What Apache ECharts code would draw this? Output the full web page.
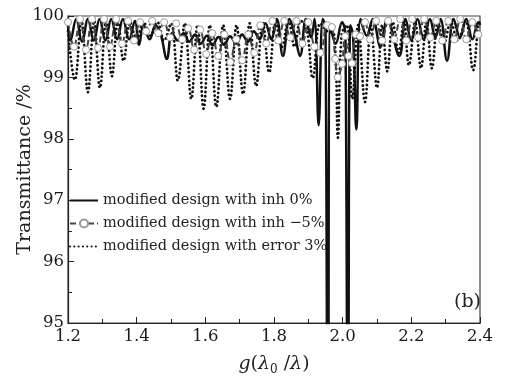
<!DOCTYPE html>
<html>
<head>
<meta charset="utf-8">
<script src="https://cdn.jsdelivr.net/npm/echarts@6/dist/echarts.min.js"></script>
<style>
html,body{margin:0;padding:0;background:#fff;}
#chart{width:507px;height:378px;}
</style>
</head>
<body>
<div id="chart"></div>
<script>
// ---- data ----
var seriesNames = [
  'modified design with inh 0%',
  'modified design with inh \u22125%',
  'modified design with error 3%'
];
var xTicks = [1.2, 1.4, 1.6, 1.8, 2.0, 2.2, 2.4];
var yTicks = [95, 96, 97, 98, 99, 100];

// inh 0% (solid)
var inh0 = [
  [1.200,99.85],[1.207,99.60],[1.224,99.95],[1.241,99.58],[1.258,99.95],[1.275,99.60],
  [1.292,99.95],[1.309,99.60],[1.326,99.95],[1.343,99.62],[1.360,99.95],[1.378,99.62],
  [1.395,99.92],[1.407,99.53],[1.420,99.85],[1.438,99.62],[1.455,99.85],[1.470,99.70],
  [1.488,99.30],[1.503,99.72],[1.520,99.60],[1.537,99.72],[1.553,99.58],[1.570,99.70],
  [1.587,99.55],[1.604,99.68],[1.621,99.52],[1.638,99.66],[1.655,99.53],[1.672,99.67],
  [1.690,99.55],[1.707,99.70],[1.724,99.58],[1.741,99.75],[1.758,99.62],[1.775,99.88],
  [1.792,99.62],[1.808,99.95],[1.826,99.35],[1.845,99.95],[1.860,99.70],[1.876,99.35],
  [1.893,99.95],[1.908,99.65],[1.918,99.95],[1.930,98.22],[1.942,99.95],[1.950,99.80],
  [1.957,90.0],[1.964,99.85],[1.980,99.55],[1.998,99.90],[2.008,99.70],[2.015,90.0],
  [2.022,99.85],[2.030,99.70],[2.040,98.15],[2.052,99.95],[2.070,99.68],[2.088,99.95],
  [2.110,99.50],[2.130,99.95],[2.165,99.35],[2.183,99.95],[2.200,99.60],[2.218,99.95],
  [2.236,99.62],[2.254,99.95],[2.270,99.65],[2.285,99.95],[2.304,99.27],[2.323,99.95],
  [2.342,99.65],[2.360,99.95],[2.378,99.62],[2.395,99.90],[2.400,99.85]
];

// inh -5% (dashed with circles)
var inhM5 = [
  [1.200,99.90],[1.2175,99.50],[1.235,99.95],[1.2525,99.45],[1.270,99.95],[1.2875,99.48],
  [1.305,99.95],[1.3225,99.50],[1.340,99.95],[1.3575,99.55],[1.375,99.92],[1.3925,99.60],
  [1.410,99.90],[1.4275,99.75],[1.445,99.92],[1.4625,99.72],[1.480,99.90],[1.4975,99.65],
  [1.515,99.88],[1.5325,99.62],[1.550,99.80],[1.5675,99.45],[1.585,99.78],[1.6025,99.38],
  [1.620,99.72],[1.6375,99.35],[1.655,99.70],[1.6725,99.25],[1.690,99.62],[1.7075,99.28],
  [1.725,99.70],[1.7425,99.40],[1.760,99.85],[1.7775,99.55],[1.795,99.92],[1.8125,99.60],
  [1.830,99.92],[1.8475,99.65],[1.865,99.92],[1.8825,99.55],[1.900,99.90],[1.9175,99.50],
  [1.935,99.40],[1.955,99.85],[1.969,99.82],[1.978,99.30],[1.986,99.00],[1.998,99.22],
  [2.007,99.67],[2.017,99.35],[2.027,99.23],[2.038,99.70],[2.051,99.67],[2.065,99.90],
  [2.080,99.62],[2.0975,99.92],[2.115,99.60],[2.1325,99.92],[2.150,99.62],[2.1675,99.95],
  [2.185,99.60],[2.2025,99.95],[2.220,99.65],[2.2375,99.95],[2.255,99.65],[2.2725,99.92],
  [2.290,99.60],[2.3075,99.92],[2.325,99.62],[2.3425,99.95],[2.360,99.62],[2.3775,99.90],
  [2.395,99.70]
];

// error 3% (dotted)
var err3 = [
  [1.200,99.75],[1.220,98.96],[1.239,99.92],[1.258,98.76],[1.276,99.92],[1.293,98.83],
  [1.311,99.92],[1.328,99.02],[1.345,99.92],[1.362,99.27],[1.381,99.90],[1.400,99.62],
  [1.420,99.90],[1.440,99.68],[1.460,99.90],[1.480,99.60],[1.500,99.88],[1.520,98.95],
  [1.540,99.88],[1.559,98.65],[1.577,99.85],[1.595,98.49],[1.613,99.85],[1.632,98.52],
  [1.652,99.85],[1.672,98.65],[1.691,99.85],[1.710,98.73],[1.729,99.88],[1.748,98.86],
  [1.767,99.90],[1.786,99.08],[1.805,99.92],[1.823,99.50],[1.842,99.92],[1.860,99.50],
  [1.878,99.92],[1.895,99.80],[1.913,98.99],[1.935,99.88],[1.955,99.75],[1.975,99.70],
  [1.986,98.02],[1.997,99.70],[2.012,99.85],[2.028,98.65],[2.045,99.85],[2.065,98.60],
  [2.082,99.85],[2.100,98.83],[2.115,99.85],[2.130,99.10],[2.146,99.90],[2.163,99.40],
  [2.178,99.90],[2.193,99.20],[2.211,99.90],[2.228,99.15],[2.244,99.90],[2.260,99.15],
  [2.278,99.90],[2.295,99.55],[2.315,99.90],[2.335,99.60],[2.358,99.92],[2.380,99.12],
  [2.395,99.85],[2.400,99.90]
];

var FONT = 'DejaVu Serif';
var chart = echarts.init(document.getElementById('chart'), null, {renderer: 'canvas'});
chart.setOption({
  animation: false,
  backgroundColor: '#fff',
  title: {
    text: '(b)', left: 449, top: 288,
    textStyle: {fontFamily: FONT, fontSize: 19, fontWeight: 'normal', color: '#222'}
  },
  grid: {left: 68, right: 27, top: 16, bottom: 55, show: true, borderColor: '#444', borderWidth: 1.2,
    containLabel: false, outerBoundsMode: 'none'},
  legend: {
    orient: 'vertical', left: 69, top: 193,
    itemWidth: 28, itemHeight: 10, itemGap: 8, padding: 0,
    textStyle: {fontFamily: FONT, fontSize: 14.5, color: '#222'},
    data: [
      {name: seriesNames[0], itemStyle: {opacity: 0}},
      {name: seriesNames[1]},
      {name: seriesNames[2], itemStyle: {opacity: 0}}
    ]
  },
  xAxis: {
    type: 'value', min: xTicks[0], max: xTicks[xTicks.length - 1], interval: 0.2,
    name: '{i|g}{n|(}{i|\u03bb}{s|0}{n| /}{i|\u03bb}{n|)}',
    nameLocation: 'middle', nameGap: 29, nameMoveOverlap: false,
    nameTextStyle: {
      rich: {
        i: {fontFamily: FONT, fontStyle: 'italic', fontSize: 19, color: '#222'},
        n: {fontFamily: FONT, fontSize: 19, color: '#222'},
        s: {fontFamily: FONT, fontSize: 12, color: '#222', padding: [12, 0, 0, 0]}
      }
    },
    axisLine: {lineStyle: {color: '#222', width: 1.2}},
    axisTick: {inside: true, length: 6, lineStyle: {color: '#222'}},
    minorTick: {show: true, splitNumber: 2, length: 4, lineStyle: {color: '#222'}},
    splitLine: {show: false},
    axisLabel: {fontFamily: FONT, fontSize: 16.5, color: '#1a1a1a', margin: 5,
      formatter: function (v) { return v.toFixed(1); }}
  },
  yAxis: {
    type: 'value', min: yTicks[0], max: yTicks[yTicks.length - 1], interval: 1,
    name: 'Transmittance /%', nameLocation: 'middle', nameGap: 33, nameMoveOverlap: false,
    nameTextStyle: {fontFamily: FONT, fontSize: 19, color: '#222'},
    axisLine: {lineStyle: {color: '#222', width: 1.2}},
    axisTick: {inside: true, length: 6, lineStyle: {color: '#222'}},
    minorTick: {show: true, splitNumber: 2, length: 4, lineStyle: {color: '#222'}},
    splitLine: {show: false},
    axisLabel: {fontFamily: FONT, fontSize: 16.5, color: '#1a1a1a', margin: 4}
  },
  series: [
    {
      name: seriesNames[0], type: 'line', data: inh0, smooth: 0.4,
      symbol: 'none', clip: true,
      lineStyle: {color: '#111', width: 2.5},
      itemStyle: {color: '#111', opacity: 0}
    },
    {
      name: seriesNames[2], type: 'line', data: err3, smooth: 0.4,
      symbol: 'none', clip: true,
      lineStyle: {color: '#111', width: 2.8, type: [0.1, 4.2], cap: 'round'},
      itemStyle: {color: '#111', opacity: 0}
    },
    {
      name: seriesNames[1], type: 'line', data: inhM5, smooth: 0.4,
      symbol: 'circle', symbolSize: 7, showSymbol: true, clip: true,
      lineStyle: {color: '#444', width: 2, type: [6, 3]},
      itemStyle: {color: '#fff', borderColor: '#999', borderWidth: 1}
    }
  ]
});
</script>
</body>
</html>
